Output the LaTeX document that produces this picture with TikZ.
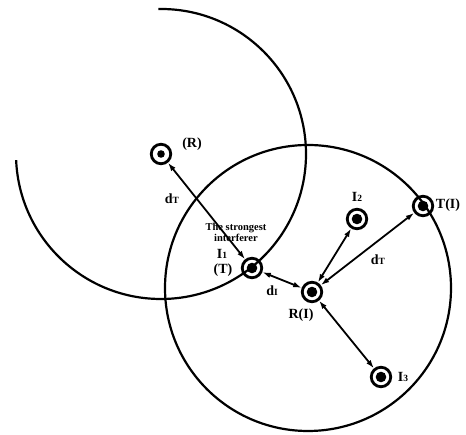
\documentclass[tikz,border=0pt]{standalone}
\usepackage{fontspec}
\setmainfont{Liberation Serif}
\usetikzlibrary{arrows.meta}
\begin{document}
\begin{tikzpicture}[x=1pt,y=1pt,
  station/.style={circle, draw, line width=2.8pt, minimum size=19.5pt, inner sep=0pt,
    path picture={\fill (path picture bounding box.center) circle (5.3pt);}},
  smallstation/.style={circle, draw, line width=2.8pt, minimum size=19.5pt, inner sep=0pt,
    path picture={\fill (path picture bounding box.center) circle (3.8pt);}},
  conn/.style={line width=1.8pt, {Latex[length=8.5pt,width=5.5pt]}-{Latex[length=8.5pt,width=5.5pt]}},
  rim/.style={line width=2.2pt},
  lab/.style={font=\bfseries\fontsize{14}{15}\selectfont, inner sep=0pt},
  note/.style={font=\bfseries\fontsize{10.5}{10.5}\selectfont, inner sep=0pt, align=center}
]
\useasboundingbox (0,0) rectangle (466,435);
% circles
\draw[rim] (308,147) circle (143);
\draw[rim] (161,281) ++(91:145) arc[start angle=91, end angle=-177.6, radius=145];
% stations
\node[smallstation] (R) at (161,281) {};
\node[station] (I1) at (252,167) {};
\node[station] (RI) at (312,143) {};
\node[station] (I2) at (357,216) {};
\node[station] (TI) at (423,229) {};
\node[station] (I3) at (381,58) {};
% connectors
\draw[conn] (R) -- (I1);
\draw[conn] (I1) -- (RI);
\draw[conn] (RI) -- (I2);
\draw[conn] (RI) -- (TI);
\draw[conn] (RI) -- (I3);
% labels
\node[lab] (lR) at (192,291) {(R)};
\node[note] (lnote) at (236,203) {The strongest\\[0.5pt]interferer};
\node[lab] (lI1) at (222,181) {I{\fontsize{9.5}{9.5}\selectfont 1}};
\node[lab] (lT) at (223,165) {(T)};
\node[lab] (lRI) at (301,120) {R(I)};
\node[lab] (lI2) at (357,238) {I{\fontsize{9.5}{9.5}\selectfont 2}};
\node[lab] (lTI) at (448,230) {T(I)};
\node[lab] (lI3) at (403,58) {I{\fontsize{9.5}{9.5}\selectfont 3}};
\node[lab] (ldT1) at (172,236) {d{\fontsize{9.5}{9.5}\selectfont T}};
\node[lab] (ldI) at (272,144) {d{\fontsize{9.5}{9.5}\selectfont I}};
\node[lab] (ldT2) at (378,175) {d{\fontsize{9.5}{9.5}\selectfont T}};
\end{tikzpicture}
\end{document}
